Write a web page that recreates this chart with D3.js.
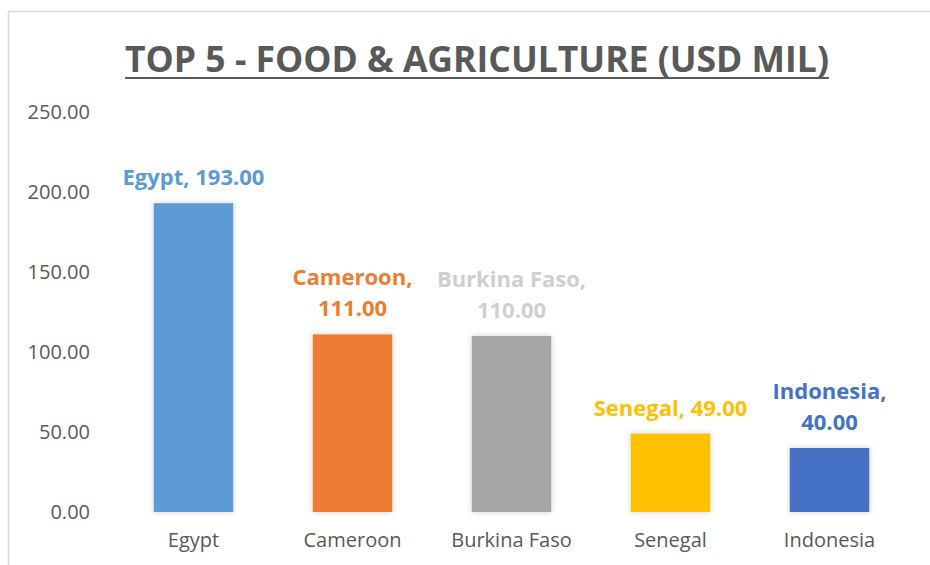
<!DOCTYPE html>
<html>
<head>
<meta charset="utf-8">
<script src="https://cdn.jsdelivr.net/npm/d3@7.9.0/dist/d3.min.js"></script>
<style>
  html, body { margin: 0; padding: 0; background: #fff; }
  svg { display: block; font-family: "Open Sans", sans-serif; }
</style>
</head>
<body>
<svg id="chart" width="930" height="565"></svg>
<script>
// chart data
const countries = ['Egypt', 'Cameroon', 'Burkina Faso', 'Senegal', 'Indonesia'];
const values = [193, 111, 110, 49, 40];
const barColors = ['#5B9BD5', '#ED7D31', '#A5A5A5', '#FFC000', '#4472C4'];
const labelColors = ['#5B9BD5', '#ED7D31', '#CFCFCF', '#FFC000', '#4472C4'];
const labelBreaks = [false, true, true, false, true];
const yTicks = [0, 50, 100, 150, 200, 250];
const title = 'TOP 5 - FOOD & AGRICULTURE (USD MIL)';

const svg = d3.select('#chart');
const textColor = '#595959';

// outer chart frame (runs off the right and bottom edges)
svg.append('rect')
  .attr('x', 8.5).attr('y', 11.5)
  .attr('width', 960).attr('height', 600)
  .attr('fill', 'none')
  .attr('stroke', '#D9D9D9')
  .attr('stroke-width', 1.5);

// shadow for bars
const defs = svg.append('defs');
const f = defs.append('filter').attr('id', 'shadow')
  .attr('x', '-20%').attr('y', '-20%').attr('width', '140%').attr('height', '140%');
f.append('feDropShadow')
  .attr('dx', 0).attr('dy', 0)
  .attr('stdDeviation', 3)
  .attr('flood-color', '#000')
  .attr('flood-opacity', 0.18);

const x = d3.scaleBand()
  .domain(countries)
  .range([114, 909])
  .paddingInner(0.5)
  .paddingOuter(0.25);

const y = d3.scaleLinear().domain([0, 250]).range([512, 112]);

// title, fitted to the reference width
const titleText = svg.append('text')
  .attr('x', 477).attr('y', 72)
  .attr('text-anchor', 'middle')
  .attr('font-weight', 700)
  .attr('font-size', 30)
  .attr('fill', textColor)
  .text(title);
const tw = titleText.node().getComputedTextLength();
titleText.attr('font-size', 30 * 704 / tw);
const tb = titleText.node().getBBox();
svg.append('line')
  .attr('x1', tb.x).attr('x2', tb.x + tb.width)
  .attr('y1', 78).attr('y2', 78)
  .attr('stroke', textColor)
  .attr('stroke-width', 2.2);

// y axis labels only (no line, no gridlines)
const yAxis = svg.append('g')
  .attr('transform', 'translate(90,0)')
  .call(d3.axisLeft(y).tickValues(yTicks).tickFormat(d3.format('.2f')).tickSize(0).tickPadding(0));
yAxis.select('.domain').remove();
yAxis.selectAll('text')
  .attr('font-family', '"Open Sans", sans-serif')
  .attr('font-size', 20)
  .attr('fill', textColor);

// x axis labels
const xAxis = svg.append('g')
  .attr('transform', 'translate(0,512)')
  .call(d3.axisBottom(x).tickSize(0).tickPadding(21));
xAxis.select('.domain').remove();
xAxis.selectAll('text')
  .attr('font-family', '"Open Sans", sans-serif')
  .attr('font-size', 20)
  .attr('fill', textColor);

// bars
svg.append('g').selectAll('rect')
  .data(countries)
  .join('rect')
  .attr('x', d => x(d))
  .attr('y', (d, i) => y(values[i]))
  .attr('width', x.bandwidth())
  .attr('height', (d, i) => y(0) - y(values[i]))
  .attr('fill', (d, i) => barColors[i])
  .attr('filter', 'url(#shadow)');

// data labels
const fmt = d3.format('.2f');
countries.forEach((c, i) => {
  const cx = x(c) + x.bandwidth() / 2;
  const base = y(values[i]) - 18;
  const lines = labelBreaks[i] ? [c + ',', fmt(values[i])] : [c + ', ' + fmt(values[i])];
  const t = svg.append('text')
    .attr('text-anchor', 'middle')
    .attr('font-weight', 700)
    .attr('font-size', 22)
    .attr('fill', labelColors[i]);
  lines.forEach((ln, j) => {
    t.append('tspan')
      .attr('x', cx)
      .attr('y', base - (lines.length - 1 - j) * 31)
      .text(ln);
  });
});
</script>
</body>
</html>
